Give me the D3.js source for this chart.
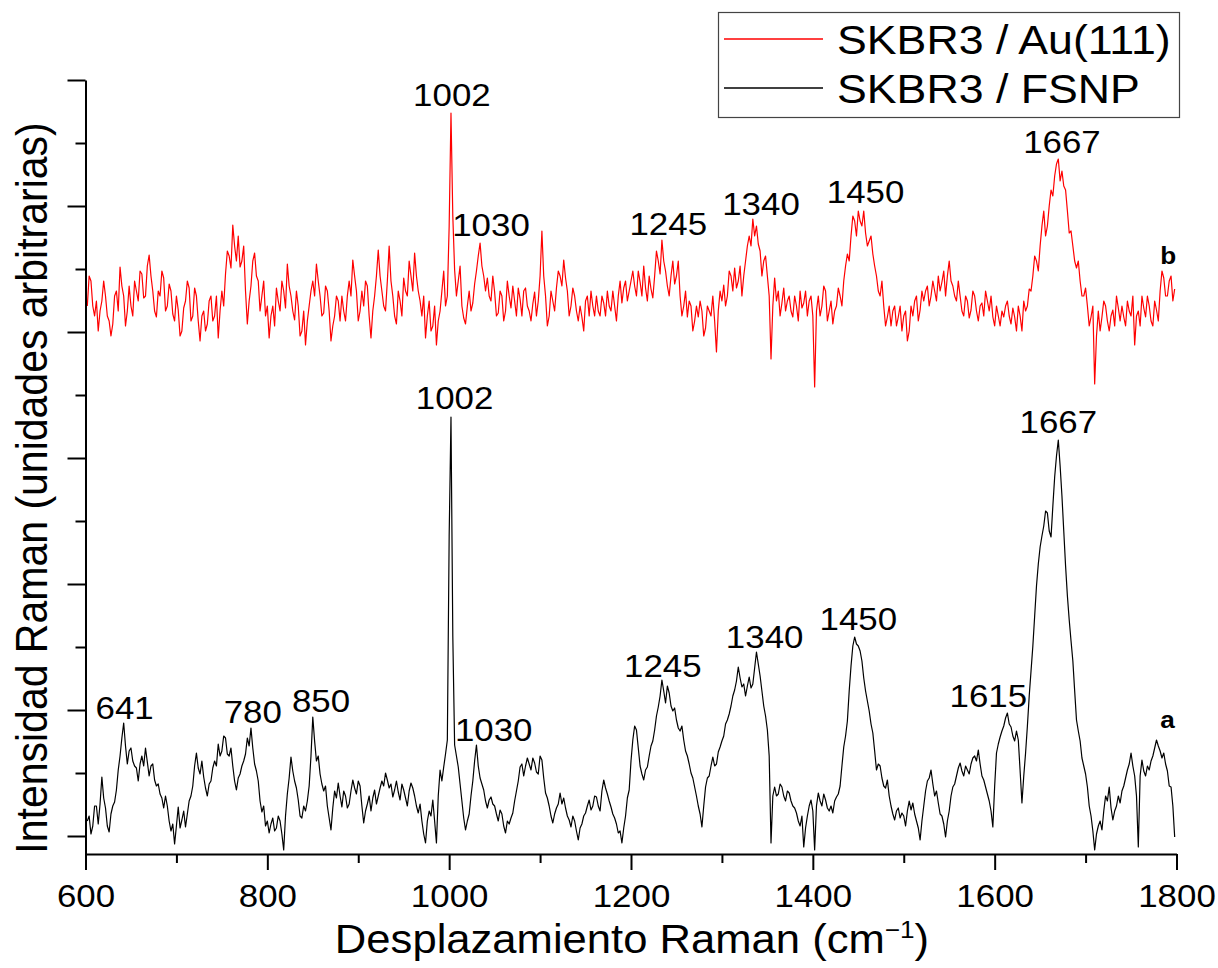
<!DOCTYPE html>
<html><head><meta charset="utf-8">
<script src="https://cdn.jsdelivr.net/npm/d3@7"></script>
<style>body{margin:0;background:#fff}svg{display:block}</style>
</head><body><svg id="chart" width="1218" height="968"></svg>
<script>
// Raman shift sampling grid (cm-1), 2 cm-1 steps from 602 to 1798
const wavenumbers = d3.range(602, 1799, 2);

// Spectrum a: SKBR3 / FSNP (arbitrary units) — samples at 602, 606, 610 ...
const fsnpEven = [
 15, 2, 30, 12, 59, 28, 4, 30, 46, 80,
 113, 72, 88, 70, 55, 80, 88, 60, 72, 50,
 42, 28, 30, 5, -8, 29, 16, 9, 35, 50,
 83, 62, 59, 40, 55, 75, 92, 85, 98, 80,
 70, 46, 62, 75, 98, 108, 72, 55, 24, 10,
 3, 18, 8, 15, -14, 42, 79, 55, 36, 18,
 25, 50, 119, 75, 62, 45, 30, 6, 45, 53,
 29, 40, 32, 56, 42, 50, 13, 32, 25, 46,
 40, 55, 63, 48, 39, 55, 36, 46, 30, 53,
 40, 23, 15, -7, 25, 36, -7, 66, 69, 96,
 419, 91, 69, 35, 6, 22, 55, 91, 58, 46,
 28, 39, 30, 15, 22, 3, 12, 23, 45, 69,
 60, 78, 66, 73, 62, 76, 43, 30, 13, 28,
 43, 38, 20, 9, 15, -4, 12, 23, 36, 30,
 39, 25, 56, 42, 29, 18, 3, -7, 20, 46,
 96, 106, 70, 56, 69, 90, 106, 129, 156, 133,
 143, 125, 116, 105, 96, 80, 63, 49, 30, 9,
 49, 60, 79, 72, 89, 100, 116, 130, 146, 169,
 149, 140, 159, 152, 184, 160, 130, 106, -7, 49,
 42, 49, 35, 43, 30, 23, 10, -11, 20, 36,
 -14, 43, 30, 36, 25, 23, 39, 50, 89, 115,
 170, 199, 190, 175, 145, 125, 103, 66, 70, 50,
 56, 30, 16, 28, 23, 10, 35, 33, 15, -4,
 30, 55, 66, 40, 33, 20, -1, 25, 49, 60,
 73, 60, 66, 72, 80, 86, 60, 49, 35, 9,
 83, 99, 110, 123, 109, 95, 96, 33, 83, 140,
 190, 250, 289, 310, 323, 299, 359, 396, 340, 270,
 216, 175, 116, 95, 70, 49, 20, -14, 10, 6,
 40, 49, 16, 30, 33, 50, 66, 83, 60, -11,
 76, 60, 66, 80, 96, 85, 83, 65, 49, -1
];
// Spectrum a — samples at 604, 608, 612 ...
const fsnpOdd = [
 20, 10, 30, 32, 38, 10, 22, 34, 66, 98,
 90, 85, 75, 68, 72, 70, 74, 70, 56, 52,
 38, 40, 15, 12, 10, 8, 25, 22, 40, 70,
 68, 75, 48, 52, 68, 70, 80, 100, 82, 88,
 55, 58, 70, 82, 90, 88, 65, 35, 30, 15,
 12, 5, 20, 2, 20, 58, 65, 48, 20, 30,
 35, 80, 95, 80, 52, 50, 18, 28, 38, 40,
 45, 28, 45, 48, 55, 30, 25, 40, 38, 32,
 48, 50, 56, 52, 46, 44, 52, 38, 45, 48,
 30, 32, 2, 15, 20, 15, 40, 55, 82, 300,
 200, 80, 52, 18, 15, 40, 75, 70, 52, 35,
 36, 32, 22, 26, 10, 15, 18, 35, 55, 72,
 70, 72, 78, 64, 80, 58, 38, 20, 22, 32,
 32, 28, 16, 20, 5, 8, 20, 30, 26, 40,
 30, 45, 48, 35, 22, 12, 5, 8, 38, 75,
 110, 88, 62, 66, 80, 95, 120, 140, 145, 150,
 130, 128, 108, 110, 85, 72, 58, 40, 22, 30,
 58, 70, 70, 84, 95, 112, 122, 140, 155, 158,
 152, 150, 148, 168, 172, 145, 120, 80, 40, 40,
 52, 40, 45, 35, 28, 15, 20, 8, 30, 25,
 30, 35, 42, 28, 30, 35, 42, 70, 100, 145,
 190, 192, 185, 158, 135, 112, 85, 72, 58, 48,
 40, 22, 25, 18, 20, 25, 26, 22, 8, 15,
 45, 58, 52, 45, 22, 12, 15, 40, 52, 68,
 65, 70, 62, 78, 75, 72, 56, 42, 25, 50,
 92, 105, 118, 112, 100, 105, 65, 60, 110, 165,
 220, 272, 300, 325, 305, 330, 380, 370, 305, 240,
 195, 145, 105, 78, 62, 30, 5, 2, 15, 25,
 35, 28, 25, 40, 45, 58, 72, 70, 40, 60,
 65, 70, 75, 88, 90, 78, 72, 50, 30
];

// Spectrum b: SKBR3 / Au(111) (arbitrary units, offset) — samples at 602, 606 ...
const auEven = [
 530, 555, 520, 505, 535, 540, 515, 512, 545, 569,
 540, 525, 530, 555, 535, 562, 540, 581, 545, 519,
 540, 558, 530, 545, 515, 526, 505, 535, 548, 520,
 540, 495, 525, 512, 540, 520, 498, 545, 562, 580,
 611, 575, 569, 590, 512, 550, 583, 555, 540, 520,
 498, 530, 548, 525, 545, 572, 540, 516, 530, 505,
 491, 530, 555, 572, 540, 523, 545, 495, 520, 535,
 540, 515, 555, 576, 545, 525, 530, 550, 498, 540,
 586, 545, 525, 590, 540, 512, 535, 558, 540, 560,
 583, 545, 520, 498, 535, 510, 491, 525, 565, 540,
 723, 566, 555, 530, 512, 545, 533, 565, 593, 560,
 558, 535, 544, 523, 540, 525, 540, 550, 520, 537,
 545, 530, 515, 544, 535, 605, 540, 520, 535, 548,
 560, 576, 545, 530, 540, 515, 519, 535, 520, 530,
 540, 520, 533, 545, 525, 530, 540, 533, 555, 545,
 565, 540, 554, 570, 535, 547, 560, 575, 596, 565,
 540, 575, 560, 540, 530, 519, 530, 515, 519, 525,
 508, 525, 540, 484, 545, 551, 540, 560, 568, 555,
 540, 575, 600, 617, 610, 585, 575, 560, 477, 558,
 545, 533, 525, 540, 519, 530, 545, 533, 520, 540,
 449, 540, 530, 545, 525, 512, 530, 540, 555, 582,
 600, 615, 625, 610, 603, 595, 582, 560, 540, 530,
 519, 510, 530, 519, 505, 525, 505, 520, 540, 526,
 535, 550, 540, 545, 560, 554, 540, 575, 550, 535,
 540, 520, 535, 526, 540, 515, 533, 545, 525, 519,
 530, 510, 519, 535, 512, 519, 530, 505, 525, 547,
 560, 575, 590, 625, 610, 646, 660, 677, 665, 646,
 603, 590, 568, 555, 540, 530, 519, 452, 525, 519,
 530, 505, 526, 540, 515, 519, 535, 520, 491, 525,
 540, 519, 530, 510, 526, 545, 558, 540, 560, 547
];
// Spectrum b — samples at 604, 608, 612 ...
const auOdd = [
 560, 530, 535, 525, 555, 520, 500, 540, 525, 550,
 510, 550, 520, 545, 565, 538, 570, 560, 525, 545,
 565, 525, 552, 522, 540, 500, 528, 555, 515, 548,
 515, 520, 505, 535, 515, 540, 525, 530, 585, 568,
 590, 600, 575, 545, 535, 575, 560, 525, 555, 530,
 520, 510, 535, 555, 528, 550, 525, 545, 500, 525,
 515, 545, 540, 555, 520, 550, 525, 510, 540, 515,
 525, 540, 540, 560, 515, 545, 555, 520, 525, 560,
 560, 530, 555, 555, 520, 545, 520, 545, 575, 545,
 560, 535, 540, 520, 505, 530, 515, 545, 530, 610,
 620, 540, 570, 518, 530, 525, 552, 580, 570, 545,
 540, 560, 520, 545, 515, 555, 528, 535, 548, 520,
 548, 525, 532, 520, 560, 560, 510, 545, 525, 565,
 550, 558, 520, 548, 525, 530, 505, 540, 545, 520,
 525, 540, 520, 530, 545, 515, 555, 548, 535, 555,
 550, 565, 540, 548, 560, 538, 585, 562, 575, 550,
 560, 552, 575, 520, 545, 535, 505, 530, 535, 500,
 530, 520, 515, 525, 535, 530, 565, 545, 548, 570,
 560, 590, 590, 600, 592, 560, 580, 540, 530, 535,
 520, 548, 535, 525, 540, 515, 528, 545, 535, 520,
 525, 520, 550, 515, 535, 525, 548, 530, 570, 575,
 620, 600, 615, 625, 590, 600, 570, 545, 555, 510,
 530, 525, 510, 530, 520, 495, 530, 535, 515, 545,
 545, 530, 555, 535, 545, 565, 560, 555, 540, 555,
 525, 540, 518, 545, 525, 530, 520, 535, 540, 510,
 520, 525, 530, 520, 528, 505, 520, 535, 530, 545,
 580, 565, 610, 600, 630, 640, 672, 655, 650, 625,
 605, 575, 575, 540, 548, 510, 530, 500, 505, 535,
 515, 520, 510, 528, 530, 510, 525, 540, 520, 510,
 528, 540, 515, 535, 515, 565, 540, 555, 535
];

// Axis ticks
const xMajorTicks = [600, 800, 1000, 1200, 1400, 1600, 1800];
const xMinorTicks = [700, 900, 1100, 1300, 1500, 1700];
const yMajorTicks = [0, 126, 252, 378, 504, 630, 756];
const yMinorTicks = [63, 189, 315, 441, 567, 693];

// Peak annotations (label text, anchor wavenumber, anchor intensity)
const fsnpLabels = ["641", "780", "850", "1002", "1030", "1245", "1340", "1450", "1615", "1667"];
const fsnpLabelX = [643, 784, 859, 1006, 1049, 1235, 1347, 1450, 1593, 1670];
const fsnpLabelY = [117, 113, 124, 427, 95, 159, 188, 206, 129, 403];
const auLabels = ["1002", "1030", "1245", "1340", "1450", "1667"];
const auLabelX = [1003, 1046, 1241, 1343, 1458, 1674];
const auLabelY = [730, 600, 601, 621, 633, 683];
const curveTags = ["a", "b"];
const curveTagX = [1790, 1791];
const curveTagY = [108, 572];

const seriesNames = ["SKBR3 / Au(111)", "SKBR3 / FSNP"];
const seriesColors = ["#ff0000", "#000000"];

function merge(even, odd) {
  const out = [];
  even.forEach((v, i) => { out.push(v); if (i < odd.length) out.push(odd[i]); });
  return out;
}
const fsnpIntensity = merge(fsnpEven, fsnpOdd);
const auIntensity = merge(auEven, auOdd);

const FONT = "'Liberation Sans', Arial, Helvetica, sans-serif";
const SX = 1.09;

const svg = d3.select("#chart");
const x = d3.scaleLinear().domain([600, 1800]).range([85.5, 1176.5]);
const y = d3.scaleLinear().domain([-18, 756]).range([854, 80]);

// Spectra
const line = d3.line().x((d, i) => x(wavenumbers[i])).y(d => y(d));
svg.append("path").datum(auIntensity).attr("d", line)
  .attr("fill", "none").attr("stroke", seriesColors[0]).attr("stroke-width", 1.2).attr("stroke-linejoin", "round");
svg.append("path").datum(fsnpIntensity).attr("d", line)
  .attr("fill", "none").attr("stroke", seriesColors[1]).attr("stroke-width", 1.2).attr("stroke-linejoin", "round");

// X axis
const gx = svg.append("g").attr("transform", "translate(0,854)");
gx.call(d3.axisBottom(x).tickValues(xMajorTicks).tickSize(16).tickSizeOuter(0).tickFormat(d3.format("d")));
gx.append("g").call(d3.axisBottom(x).tickValues(xMinorTicks).tickSize(9).tickSizeOuter(0).tickFormat(""))
  .select(".domain").remove();
gx.selectAll("path,line").attr("stroke", "#000").attr("stroke-width", 2);
gx.selectAll("text").attr("y", 53).attr("dy", null)
  .attr("transform", `scale(${SX},1)`)
  .attr("font-family", FONT).attr("font-size", 32).attr("fill", "#000");

// Y axis
const gy = svg.append("g").attr("transform", "translate(85.5,0)");
gy.call(d3.axisLeft(y).tickValues(yMajorTicks).tickSize(18).tickSizeOuter(0).tickFormat(""));
gy.append("g").call(d3.axisLeft(y).tickValues(yMinorTicks).tickSize(10).tickSizeOuter(0).tickFormat(""))
  .select(".domain").remove();
gy.selectAll("path,line").attr("stroke", "#000").attr("stroke-width", 2);

// Axis titles
const xt = svg.append("text")
  .attr("transform", `translate(632,953) scale(${SX},1)`)
  .attr("text-anchor", "middle").attr("font-family", FONT).attr("font-size", 40).attr("fill", "#000");
xt.append("tspan").text("Desplazamiento Raman (cm");
xt.append("tspan").attr("dy", -15).attr("font-size", 24).text("\u22121");
xt.append("tspan").attr("dy", 15).text(")");

svg.append("text")
  .attr("transform", `translate(47,488) rotate(-90) scale(1,${SX})`)
  .attr("text-anchor", "middle").attr("font-family", FONT).attr("font-size", 41).attr("fill", "#000")
  .text("Intensidad Raman (unidades arbitrarias)");

// Peak labels
function addLabels(texts, xs, ys, size, weight) {
  texts.forEach((t, i) => {
    svg.append("text")
      .attr("transform", `translate(${x(xs[i])},${y(ys[i])}) scale(${SX},1)`)
      .attr("text-anchor", "middle").attr("font-family", FONT)
      .attr("font-size", size).attr("font-weight", weight).attr("fill", "#000")
      .text(t);
  });
}
addLabels(fsnpLabels, fsnpLabelX, fsnpLabelY, 32, "normal");
addLabels(auLabels, auLabelX, auLabelY, 32, "normal");
addLabels(curveTags, curveTagX, curveTagY, 24, "bold");

// Legend
const lg = svg.append("g");
lg.append("rect").attr("x", 718.5).attr("y", 12.5).attr("width", 461).attr("height", 105)
  .attr("fill", "#fff").attr("stroke", "#444").attr("stroke-width", 1.2);
seriesNames.forEach((name, i) => {
  const cy = 39 + i * 49;
  lg.append("line").attr("x1", 724).attr("x2", 823).attr("y1", cy).attr("y2", cy)
    .attr("stroke", seriesColors[i]).attr("stroke-width", 1.5);
  lg.append("text").attr("transform", `translate(837,${cy + 15}) scale(${SX},1)`)
    .attr("font-family", FONT).attr("font-size", 41).attr("fill", "#000").text(name);
});
</script></body></html>
